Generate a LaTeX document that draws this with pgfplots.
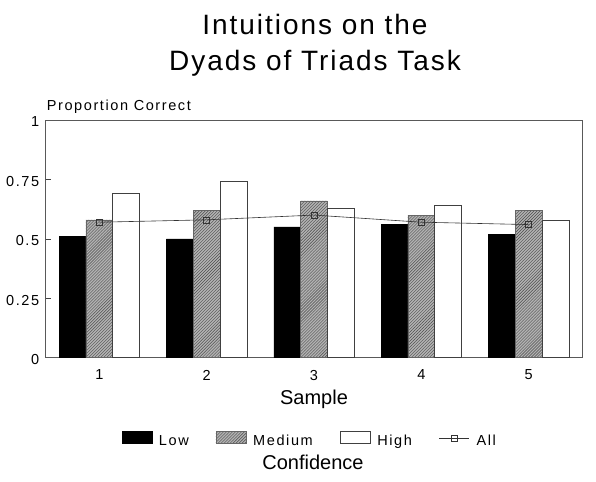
\documentclass[border=0pt]{standalone}
\usepackage{fontspec}
\setmainfont{Liberation Sans}[LetterSpace=11]
\newfontfamily\titlefont{Liberation Sans}[LetterSpace=7]
\newfontfamily\labelfont{Liberation Sans}
\usepackage{pgfplots}
\usepackage{pgfplotstable}
\pgfplotsset{compat=1.18}
\usetikzlibrary{patterns}

% proportion correct per sample and confidence level
\pgfplotstableread{
x low  med  high all
1 0.51 0.58 0.69 0.57
2 0.50 0.62 0.74 0.58
3 0.55 0.66 0.63 0.60
4 0.56 0.60 0.64 0.57
5 0.52 0.62 0.58 0.56
}\data

\newcommand{\smallfont}{\fontsize{14.5bp}{17bp}\selectfont}

\pgfplotsset{
  box legend/.style={legend image code/.code={\draw[##1] (0bp,-2bp) rectangle (30bp,10bp);}},
  mark legend/.style={legend image code/.code={\draw[mark repeat=2, mark phase=2, ##1]
    plot coordinates {(0bp,3bp) (15bp,3bp) (30bp,3bp)};}},
}

\begin{document}
\begin{tikzpicture}[x=1bp,y=1bp]
\useasboundingbox (0,0) rectangle (596,482);

\node[anchor=base, inner sep=0pt, font=\titlefont\fontsize{28bp}{34bp}\selectfont] at (315,447) {Intuitions on the};
\node[anchor=base, inner sep=0pt, font=\titlefont\fontsize{28bp}{34bp}\selectfont] at (315,411.3) {Dyads of Triads Task};

\begin{axis}[
  at={(45.7bp,124.3bp)}, anchor=south west,
  scale only axis, width=536.6bp, height=237.7bp,
  xmin=0.5, xmax=5.5, ymin=0, ymax=1,
  xtick={1,2,3,4,5}, xticklabels={1,2,3,4,5},
  ytick={0,0.25,0.5,0.75,1}, yticklabels={0,0.25,0.5,0.75,1},
  tick pos=left, tick align=inside, major tick length=5bp,
  axis line style={black!65, line width=0.7bp},
  tick style={black!75, line width=0.6bp},
  /pgf/number format/assume math mode=true,
  tick label style={font=\smallfont, inner sep=0pt},
  yticklabel style={anchor=east, xshift=-6.4bp, yshift=-2bp},
  xticklabel style={anchor=north, yshift=-12bp},
  ylabel={Proportion Correct},
  every axis y label/.style={at={(axis description cs:0,1)}, anchor=base west,
    inner sep=0pt, xshift=1bp, yshift=9.3bp, font=\smallfont},
  xlabel={Sample},
  every axis x label/.style={at={(axis description cs:0.5,0)}, anchor=base,
    inner sep=0pt, yshift=-46.6bp, font=\labelfont\fontsize{20bp}{24bp}\selectfont},
  legend columns=4,
  legend style={draw=none, fill=none, at={(axis description cs:0.492,-0.347)},
    anchor=center, font=\smallfont,
    /tikz/every odd column/.append style={column sep=5bp},
    /tikz/every even column/.append style={column sep=25bp}},
]
\addplot[ybar, bar width=26.8bp, bar shift=-26.8bp, fill=black, draw=black, box legend]
  table[x=x, y=low] {\data};
\addlegendentry{Low}
\addplot[ybar, bar width=26.8bp, bar shift=0bp, draw=black!60, line width=0.5bp,
  fill=black!30, postaction={pattern=north east lines, pattern color=black!70}, box legend]
  table[x=x, y=med] {\data};
\addlegendentry{Medium}
\addplot[ybar, bar width=26.8bp, bar shift=26.8bp, fill=white, draw=black!75, line width=0.6bp,
  box legend]
  table[x=x, y=high] {\data};
\addlegendentry{High}
\addplot[sharp plot, black!80, line width=0.6bp, mark=square, mark size=3bp,
  mark options={solid, line width=0.6bp}, mark legend]
  table[x=x, y=all] {\data};
\addlegendentry{All}
\end{axis}

\node[anchor=base, inner sep=0pt, font=\labelfont\fontsize{20bp}{24bp}\selectfont] at (313,12) {Confidence};
\end{tikzpicture}
\end{document}
